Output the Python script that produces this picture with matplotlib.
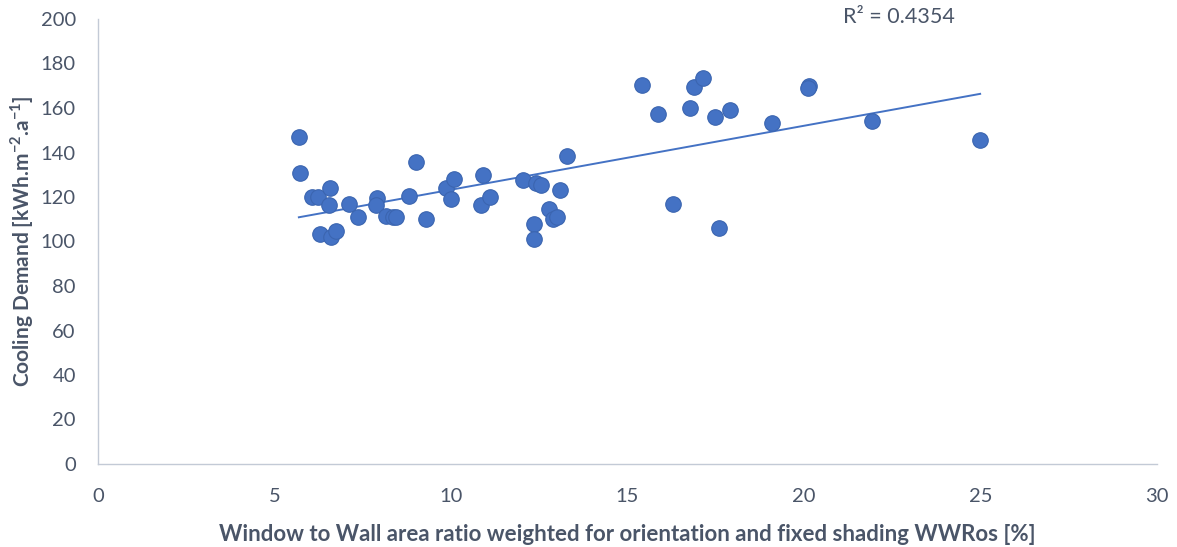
import numpy as np
import matplotlib
matplotlib.use("Agg")
import matplotlib.pyplot as plt

# Window-to-wall ratio (WWRos, %) and cooling demand (kWh/m2a) per building
wwr = [5.69, 5.72, 6.06, 6.23, 6.57, 6.54, 6.28, 6.59, 6.74, 7.10,
       7.36, 7.90, 7.87, 8.15, 8.35, 8.43, 8.80, 9.00, 9.28, 9.85,
       10.08, 9.99, 10.84, 10.90, 11.10, 12.03, 12.40, 12.55, 13.30, 13.08,
       12.79, 12.88, 12.99, 12.34, 12.34,
       15.40, 15.85, 16.78, 16.87, 17.15, 17.49, 17.89, 19.10, 16.30, 17.58,
       20.15, 20.12, 21.94, 24.99]
cooling = [147.0, 130.8, 120.0, 120.0, 124.0, 116.4, 103.4, 102.0, 104.7, 116.9,
           111.0, 119.6, 116.4, 111.5, 111.0, 111.0, 120.4, 135.7, 110.1, 124.0,
           128.1, 119.1, 116.4, 129.9, 120.0, 127.6, 126.2, 125.6, 138.4, 123.1,
           114.6, 110.1, 111.0, 107.9, 101.1,
           170.3, 157.3, 160.0, 169.4, 173.5, 156.0, 159.1, 153.3, 116.9, 106.1,
           169.9, 169.0, 154.2, 145.6]
r2_label = "R² = 0.4354"

x_ticks = [0, 5, 10, 15, 20, 25, 30]
y_ticks = [0, 20, 40, 60, 80, 100, 120, 140, 160, 180, 200]

plt.rcParams['font.family'] = ['Lato', 'DejaVu Sans']
plt.rcParams['mathtext.fontset'] = 'custom'
plt.rcParams['mathtext.rm'] = 'Lato'
plt.rcParams['mathtext.bf'] = 'Lato:bold'

text_col = '#4a5568'
spine_col = '#c3cad6'
blue = '#4472C4'

fig = plt.figure(figsize=(11.77, 5.47), dpi=100)
ax = fig.add_axes([98 / 1177, 1 - 464 / 547, (1157 - 98) / 1177, (464 - 19) / 547])

# Linear trendline over the data range
coef = np.polyfit(wwr, cooling, 1)
xs = np.array([min(wwr), max(wwr)])
ax.plot(xs, np.polyval(coef, xs), color=blue, lw=1.4, zorder=2)

ax.scatter(wwr, cooling, s=125, color=blue, edgecolor='#3b65b0', linewidth=0.8, zorder=3)

ax.set_xlim(0, 30)
ax.set_ylim(0, 200)
ax.set_xticks(x_ticks)
ax.set_yticks(y_ticks)
ax.tick_params(length=0, labelsize=14.5, colors=text_col)
ax.tick_params(axis='x', pad=17)
ax.tick_params(axis='y', pad=16)
for s in ['top', 'right']:
    ax.spines[s].set_visible(False)
for s in ['left', 'bottom']:
    ax.spines[s].set_color(spine_col)
    ax.spines[s].set_linewidth(1.0)

ax.set_xlabel('Window to Wall area ratio weighted for orientation and fixed shading WWRos [%]',
              fontsize=16, fontweight='bold', color=text_col, labelpad=14)
ax.set_ylabel(r'Cooling Demand [kWh.m$^{\mathbf{-2}}$.a$^{\mathbf{-1}}$]',
              fontsize=15, fontweight='bold', color=text_col, labelpad=3)

fig.text(899 / 1177, 1 - 17 / 547, r2_label, fontsize=15.5, color=text_col,
         ha='center', va='center')

fig.savefig('out.png', dpi=100, facecolor='white')
